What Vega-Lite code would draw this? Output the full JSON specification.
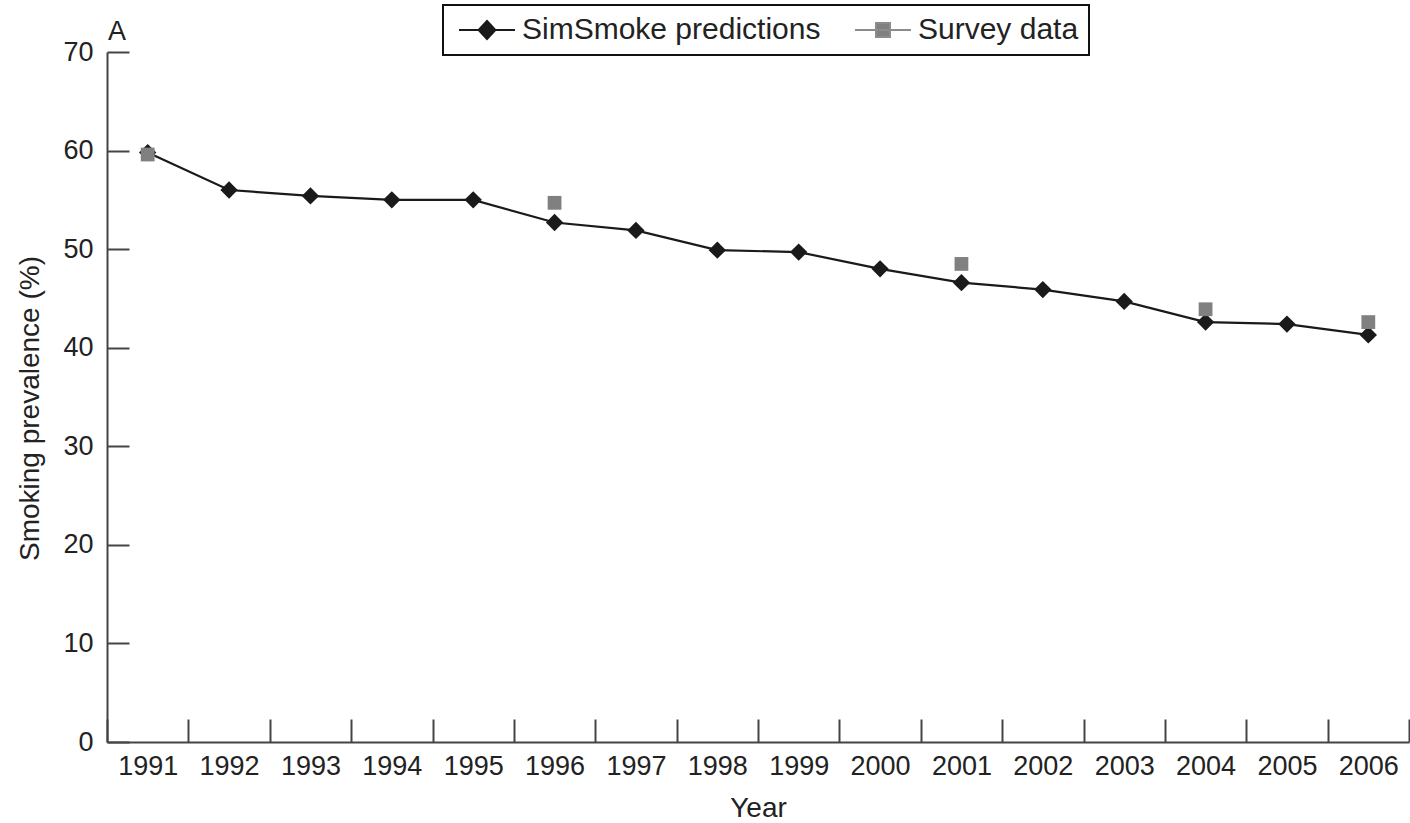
{
  "$schema": "https://vega.github.io/schema/vega-lite/v6.json",
  "width": 1302,
  "height": 690,
  "autosize": {"type": "none"},
  "padding": {"left": 107, "top": 52, "right": 1, "bottom": 81},
  "background": "white",
  "config": {
    "font": "Liberation Sans",
    "view": {"stroke": null}
  },
  "data": {
    "values": [
      {"year": "1991", "series": "SimSmoke predictions", "value": 59.8},
      {"year": "1992", "series": "SimSmoke predictions", "value": 56.0},
      {"year": "1993", "series": "SimSmoke predictions", "value": 55.4},
      {"year": "1994", "series": "SimSmoke predictions", "value": 55.0},
      {"year": "1995", "series": "SimSmoke predictions", "value": 55.0},
      {"year": "1996", "series": "SimSmoke predictions", "value": 52.7},
      {"year": "1997", "series": "SimSmoke predictions", "value": 51.9},
      {"year": "1998", "series": "SimSmoke predictions", "value": 49.9},
      {"year": "1999", "series": "SimSmoke predictions", "value": 49.7},
      {"year": "2000", "series": "SimSmoke predictions", "value": 48.0},
      {"year": "2001", "series": "SimSmoke predictions", "value": 46.6},
      {"year": "2002", "series": "SimSmoke predictions", "value": 45.9},
      {"year": "2003", "series": "SimSmoke predictions", "value": 44.7},
      {"year": "2004", "series": "SimSmoke predictions", "value": 42.6},
      {"year": "2005", "series": "SimSmoke predictions", "value": 42.4},
      {"year": "2006", "series": "SimSmoke predictions", "value": 41.3},
      {"year": "1991", "series": "Survey data", "value": 59.6},
      {"year": "1996", "series": "Survey data", "value": 54.7},
      {"year": "2001", "series": "Survey data", "value": 48.5},
      {"year": "2004", "series": "Survey data", "value": 43.9},
      {"year": "2006", "series": "Survey data", "value": 42.6}
    ]
  },
  "encoding": {
    "x": {
      "field": "year", "type": "ordinal",
      "scale": {"type": "band", "paddingInner": 0, "paddingOuter": 0},
      "axis": {
        "title": "Year", "titleFontSize": 28, "titleFontWeight": "normal", "titleColor": "#222",
        "titleX": 651, "titleY": 74, "titleBaseline": "alphabetic", "titleAlign": "center",
        "labelAngle": 0, "labelFontSize": 27, "labelColor": "#222", "labelPadding": 34, "labelBaseline": "top",
        "tickBand": "extent", "tickSize": -23, "tickColor": "#444", "tickWidth": 2,
        "domainColor": "#444", "domainWidth": 2, "grid": false
      }
    },
    "y": {
      "field": "value", "type": "quantitative",
      "scale": {"domain": [0, 70], "nice": false, "zero": true},
      "axis": {
        "title": "Smoking prevalence (%)", "titleFontSize": 28, "titleFontWeight": "normal", "titleColor": "#222",
        "titleX": -77, "titleY": 356, "titleAngle": -90, "titleAlign": "center", "titleBaseline": "middle",
        "values": [0, 10, 20, 30, 40, 50, 60, 70],
        "labelFontSize": 27, "labelColor": "#222", "labelPadding": 36,
        "tickSize": -22, "tickColor": "#444", "tickWidth": 2,
        "domainColor": "#444", "domainWidth": 2, "grid": false
      }
    }
  },
  "layer": [
    {
      "transform": [{"filter": "datum.series === 'SimSmoke predictions'"}],
      "mark": {"type": "line", "strokeWidth": 2.2},
      "encoding": {
        "color": {
          "field": "series", "type": "nominal",
          "scale": {"domain": ["SimSmoke predictions", "Survey data"], "range": ["#1a1a1a", "#8c8c8c"]},
          "legend": {
            "title": null, "orient": "none", "legendX": 336, "legendY": -47, "direction": "horizontal",
            "labelFontSize": 30, "labelColor": "#222", "labelLimit": 0, "symbolSize": 784, "symbolOffset": 19, "labelOffset": 20,
            "columnPadding": 28, "padding": 10, "strokeColor": "#111",
            "encode": {
              "legend": {"update": {"strokeWidth": {"value": 2}}},
              "symbols": {"update": {
                "shape": {"signal": "datum.value === 'SimSmoke predictions' ? 'M-2,0H2M0,-0.64L0.6,0L0,0.64L-0.6,0Z' : 'M-2,0H2M-0.5,-0.5H0.5V0.5H-0.5Z'"},
                "fill": {"signal": "datum.value === 'SimSmoke predictions' ? '#1a1a1a' : '#808080'"},
                "strokeWidth": {"value": 2},
                "opacity": {"value": 1}
              }}
            }
          }
        }
      }
    },
    {
      "transform": [{"filter": "datum.series === 'SimSmoke predictions'"}],
      "mark": {"type": "point", "filled": true, "opacity": 1, "shape": "diamond", "size": 300, "color": "#1a1a1a"}
    },
    {
      "transform": [{"filter": "datum.series === 'Survey data'"}],
      "mark": {"type": "point", "filled": true, "opacity": 1, "shape": "square", "size": 190, "color": "#808080"}
    },
    {
      "transform": [{"filter": "datum.series === 'SimSmoke predictions' && datum.year === '1991'"}],
      "mark": {"type": "text", "align": "left", "baseline": "alphabetic", "fontSize": 27, "color": "#222", "dy": -12, "dx": 1},
      "encoding": {
        "x": {"field": "year", "type": "ordinal", "bandPosition": 0},
        "y": {"datum": 70, "type": "quantitative"},
        "text": {"value": "A"}
      }
    }
  ]
}
